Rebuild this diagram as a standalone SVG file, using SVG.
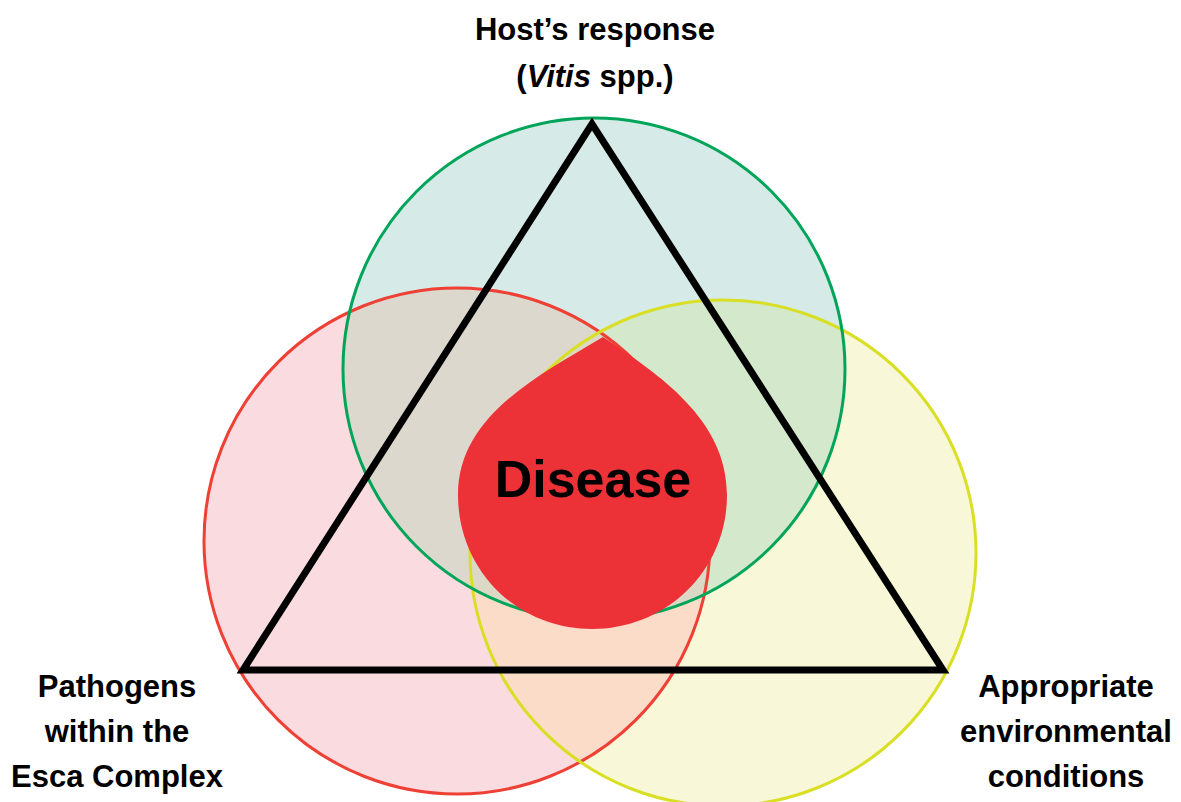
<svg xmlns="http://www.w3.org/2000/svg" width="1181" height="802" viewBox="0 0 1181 802">
  <style>
    .lbl { font-family: "Liberation Sans", Arial, sans-serif; font-weight: bold; font-size: 31px; fill: #000; text-anchor: middle; }
    .ring { fill: none; stroke-width: 3; }
  </style>
  <defs>
    <circle id="cR" cx="457" cy="541" r="253"/>
    <circle id="cG" cx="594" cy="369" r="251"/>
    <circle id="cY" cx="723" cy="553" r="253"/>
    <clipPath id="clipR"><use href="#cR"/></clipPath>
    <clipPath id="clipG"><use href="#cG"/></clipPath>
    <clipPath id="clipY"><use href="#cY"/></clipPath>
  </defs>
  <rect width="1181" height="802" fill="#ffffff"/>

  <!-- circle fills and overlaps -->
  <g id="fills">
    <use href="#cR" fill="#fadbdf"/>
    <use href="#cY" fill="#f8f8d8"/>
    <use href="#cG" fill="#d6ebe8"/>
    <use href="#cG" fill="#ddd8ce" clip-path="url(#clipR)"/>
    <use href="#cY" fill="#d4e8cb" clip-path="url(#clipG)"/>
    <use href="#cY" fill="#fbdcc9" clip-path="url(#clipR)"/>
    <g clip-path="url(#clipR)">
      <use href="#cY" fill="#dcd8c6" clip-path="url(#clipG)"/>
    </g>
  </g>

  <g id="pathogens-circle">
    <use href="#cR" class="ring" stroke="#ee4035"/>
  </g>
  <g id="environment-circle">
    <use href="#cY" class="ring" stroke="#d8df24"/>
  </g>
  <g id="host-circle">
    <use href="#cG" class="ring" stroke="#00a55a"/>
  </g>

  <g id="connectors">
    <polygon points="592,124 243,670 943,670" fill="none" stroke="#000" stroke-width="7" stroke-linejoin="miter"/>
  </g>

  <g id="disease">
    <path d="M603,337 C660,375 727,420 727,495 C727,570 667,629 592,629 C517,629 458,570 458,495 C458,415 540,375 603,337 Z" fill="#ed3237"/>
    <text x="593" y="497" font-family="Liberation Sans, Arial, sans-serif" font-weight="bold" font-size="52" text-anchor="middle" fill="#000">Disease</text>
  </g>

  <g id="host-label">
    <text class="lbl" x="595" y="40">Host’s response</text>
    <text class="lbl" x="595" y="87">(<tspan font-style="italic">Vitis</tspan> spp.)</text>
  </g>
  <g id="pathogens-label">
    <text class="lbl" x="117" y="697">Pathogens</text>
    <text class="lbl" x="117" y="742">within the</text>
    <text class="lbl" x="117" y="787">Esca Complex</text>
  </g>
  <g id="environment-label">
    <text class="lbl" x="1066" y="697">Appropriate</text>
    <text class="lbl" x="1066" y="742">environmental</text>
    <text class="lbl" x="1066" y="787">conditions</text>
  </g>
</svg>
